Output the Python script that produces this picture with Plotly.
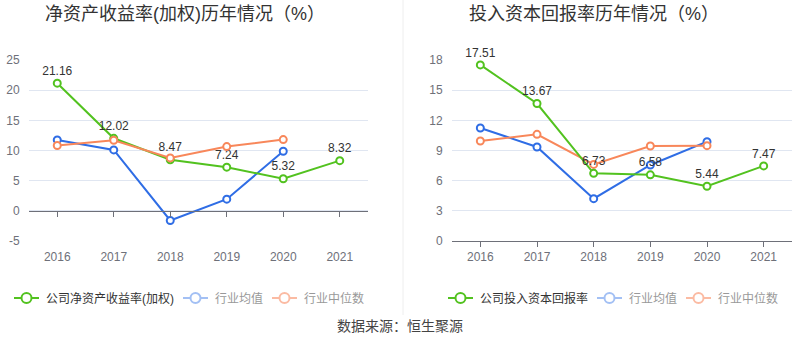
import plotly.graph_objects as go

years = ["2016", "2017", "2018", "2019", "2020", "2021"]
ind_years = ["2016", "2017", "2018", "2019", "2020"]

roe_company = [21.16, 12.02, 8.47, 7.24, 5.32, 8.32]
roe_mean = [11.75, 10.1, -1.6, 1.93, 9.88]
roe_median = [10.82, 11.7, 8.77, 10.65, 11.81]

roic_company = [17.51, 13.67, 6.73, 6.58, 5.44, 7.47]
roic_mean = [11.24, 9.35, 4.21, 7.56, 9.88]
roic_median = [9.94, 10.61, 7.62, 9.45, 9.48]

roe_ticks = [-5, 0, 5, 10, 15, 20, 25]
roe_ticklabels = ["-5", "0", "5", "10", "15", "20", "25"]
roic_ticks = [0, 3, 6, 9, 12, 15, 18]

title_left = "净资产收益率(加权)历年情况（%）"
title_right = "投入资本回报率历年情况（%）"
legend_left = ["公司净资产收益率(加权)", "行业均值", "行业中位数"]
legend_right = ["公司投入资本回报率", "行业均值", "行业中位数"]
source_text = "数据来源：恒生聚源"

W, H = 800, 358
GREEN = "#52c21f"
BLUE = "#2f6de5"
ORANGE = "#f8875a"
GREEN_L = GREEN
BLUE_L = "#a3c0f4"
ORANGE_L = "#fbbba3"
FONT = "Liberation Sans, Noto Sans CJK SC, sans-serif"


def px(x):
    return x / W


def py(y):
    return 1 - y / H


ydom = [py(241), py(60)]
xdom_l = [px(29), px(368)]
xdom_r = [px(452), px(792)]


def line_trace(x, y, color, xa, ya, text=None):
    return go.Scatter(
        x=x, y=y, xaxis=xa, yaxis=ya,
        mode="lines+markers+text" if text else "lines+markers",
        line=dict(color=color, width=2),
        marker=dict(symbol="circle", size=7, color="white",
                    line=dict(color=color, width=2)),
        text=text, textposition="top center",
        textfont=dict(size=12, color="#333333", family=FONT),
        hoverinfo="skip", showlegend=False, cliponaxis=False,
    )


fig = go.Figure()
# left chart
fig.add_trace(line_trace(ind_years, roe_mean, BLUE, "x", "y"))
fig.add_trace(line_trace(ind_years, roe_median, ORANGE, "x3", "y"))
fig.add_trace(line_trace(years, roe_company, GREEN, "x", "y",
                         text=[f"{v:.2f}" for v in roe_company]))
# right chart
fig.add_trace(line_trace(ind_years, roic_mean, BLUE, "x2", "y2"))
fig.add_trace(line_trace(ind_years, roic_median, ORANGE, "x2", "y2"))
fig.add_trace(line_trace(years, roic_company, GREEN, "x2", "y2",
                         text=[f"{v:.2f}" for v in roic_company]))

axis_font = dict(size=12, color="#6e7079", family=FONT)
yl_range = [roe_ticks[0], roe_ticks[-1]]
zero_pos = ydom[0] + (ydom[1] - ydom[0]) * (0 - yl_range[0]) / (yl_range[1] - yl_range[0])

common_x = dict(type="category", categoryorder="array", categoryarray=years,
                range=[-0.5, 5.5], showgrid=False, zeroline=False,
                tickfont=axis_font, fixedrange=True, automargin=False)

fig.update_layout(
    width=W, height=H, margin=dict(l=0, r=0, t=0, b=0, autoexpand=False),
    paper_bgcolor="white", plot_bgcolor="white",
    font=dict(family=FONT),
    showlegend=False,
    xaxis=dict(domain=xdom_l, anchor="y", showline=False, ticks="outside",
               ticklen=5, tickcolor="rgba(0,0,0,0)", **common_x),
    xaxis3=dict(overlaying="x", anchor="free", position=zero_pos,
                showline=True, linecolor="#6e7079", linewidth=1,
                ticks="outside", ticklen=5, tickcolor="#6e7079",
                showticklabels=False, **common_x),
    yaxis=dict(domain=ydom, anchor="x", range=yl_range,
               tickmode="array", tickvals=roe_ticks, ticktext=roe_ticklabels,
               showgrid=True, gridcolor="#e0e6f1", zeroline=False,
               showline=False, ticks="outside", ticklen=6,
               tickcolor="rgba(0,0,0,0)", tickfont=axis_font, fixedrange=True,
               automargin=False),
    xaxis2=dict(domain=xdom_r, anchor="y2", showline=True, linecolor="#6e7079",
                ticks="outside", ticklen=5, tickcolor="#6e7079", **common_x),
    yaxis2=dict(domain=ydom, anchor="x2", range=[roic_ticks[0], roic_ticks[-1]],
                tickmode="array", tickvals=roic_ticks,
                showgrid=True, gridcolor="#e0e6f1", zeroline=False,
                showline=False, ticks="outside", ticklen=6,
                tickcolor="rgba(0,0,0,0)", tickfont=axis_font, fixedrange=True,
                automargin=False),
)

annotations = [
    dict(text=title_left, x=px(185), y=py(14), xref="paper", yref="paper",
         showarrow=False, xanchor="center", yanchor="middle",
         font=dict(size=18, color="#333333", family=FONT)),
    dict(text=title_right, x=px(594), y=py(14), xref="paper", yref="paper",
         showarrow=False, xanchor="center", yanchor="middle",
         font=dict(size=18, color="#333333", family=FONT)),
    dict(text=source_text, x=px(400), y=py(326), xref="paper", yref="paper",
         showarrow=False, xanchor="center", yanchor="middle",
         font=dict(size=14, color="#444444", family=FONT)),
]

shapes = [dict(type="line", xref="paper", yref="paper", x0=px(403), x1=px(403),
               y0=py(0), y1=py(315), line=dict(color="#eeeeee", width=1))]

LEG_Y = 298


def legend_item(x_start, text, color, text_color):
    shapes.append(dict(type="line", xref="paper", yref="paper",
                       x0=px(x_start), x1=px(x_start + 25), y0=py(LEG_Y), y1=py(LEG_Y),
                       line=dict(color=color, width=2)))
    cx = x_start + 12.5
    shapes.append(dict(type="circle", xref="paper", yref="paper",
                       x0=px(cx - 5), x1=px(cx + 5), y0=py(LEG_Y - 5), y1=py(LEG_Y + 5),
                       fillcolor="white", line=dict(color=color, width=2)))
    annotations.append(dict(text=text, x=px(x_start + 30), y=py(LEG_Y), xref="paper",
                            yref="paper", showarrow=False, xanchor="left",
                            yanchor="middle",
                            font=dict(size=12, color=text_color, family=FONT)))


legend_item(14, legend_left[0], GREEN_L, "#333333")
legend_item(183, legend_left[1], BLUE_L, "#999999")
legend_item(272, legend_left[2], ORANGE_L, "#999999")
legend_item(448, legend_right[0], GREEN_L, "#333333")
legend_item(597, legend_right[1], BLUE_L, "#999999")
legend_item(686, legend_right[2], ORANGE_L, "#999999")

fig.update_layout(annotations=annotations, shapes=shapes)

fig.write_html(
    "out.html",
    config={"displayModeBar": False},
    post_script="document.body.style.margin='0';document.body.style.padding='0';"
                "document.documentElement.style.overflow='hidden';",
)
